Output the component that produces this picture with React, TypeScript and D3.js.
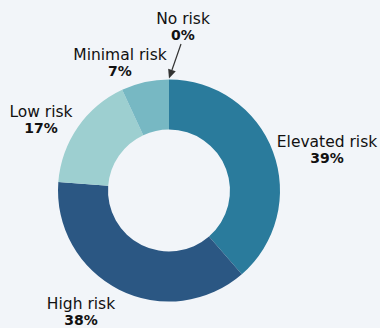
import React from "react";
import * as d3 from "d3";

const categories = ["Elevated risk", "High risk", "Low risk", "Minimal risk", "No risk"];
const values = [39, 38, 17, 7, 0];
const valueLabels = ["39%", "38%", "17%", "7%", "0%"];
const colors = ["#2a7b9c", "#2b5783", "#9dcfd0", "#77b8c3", "#5fa3b5"];
// label anchor positions (centre of text block, baseline of first line)
const labelPos: [number, number][] = [
  [327, 147],
  [81, 309],
  [41, 117],
  [120, 60],
  [183, 24],
];

const W = 380;
const H = 328;
const cx = 169;
const cy = 190.5;
const outerR = 111;
const innerR = 61;

export default function App() {
  const pie = d3.pie<number>().sort(null).value((d) => d)(values);
  const arc = d3.arc<d3.PieArcDatum<number>>().innerRadius(innerR).outerRadius(outerR);
  const noRisk = pie[4];
  const tip: [number, number] = [
    cx + Math.sin(noRisk.startAngle) * (outerR + 1),
    cy - Math.cos(noRisk.startAngle) * (outerR + 1),
  ];
  const from: [number, number] = [181, 44];
  const ang = Math.atan2(tip[1] - from[1], tip[0] - from[0]);
  const hl = 9;
  const hw = 4;
  const bx = tip[0] - Math.cos(ang) * hl;
  const by = tip[1] - Math.sin(ang) * hl;
  const head = [
    [tip[0], tip[1]],
    [bx + Math.sin(ang) * hw, by - Math.cos(ang) * hw],
    [bx - Math.sin(ang) * hw, by + Math.cos(ang) * hw],
  ];
  return (
    <svg
      width={W}
      height={H}
      style={{ position: "absolute", left: 0, top: 0, background: "#f2f5f9" }}
      fontFamily="'DejaVu Sans', Verdana, sans-serif"
    >
      <rect width={W} height={H} fill="#f2f5f9" />
      <g transform={`translate(${cx},${cy})`}>
        {pie.map((p, i) =>
          p.value > 0 ? <path key={i} d={arc(p) || ""} fill={colors[i]} /> : null
        )}
      </g>
      <line x1={from[0]} y1={from[1]} x2={bx} y2={by} stroke="#333" strokeWidth={1.2} />
      <polygon points={head.map((p) => p.join(",")).join(" ")} fill="#333" />
      {categories.map((c, i) => (
        <text key={c} x={labelPos[i][0]} y={labelPos[i][1]} textAnchor="middle" fill="#111" fontSize={15.5}>
          <tspan x={labelPos[i][0]}>{c}</tspan>
          <tspan x={labelPos[i][0]} dy={16} fontWeight="bold" fontSize={14}>
            {valueLabels[i]}
          </tspan>
        </text>
      ))}
    </svg>
  );
}
